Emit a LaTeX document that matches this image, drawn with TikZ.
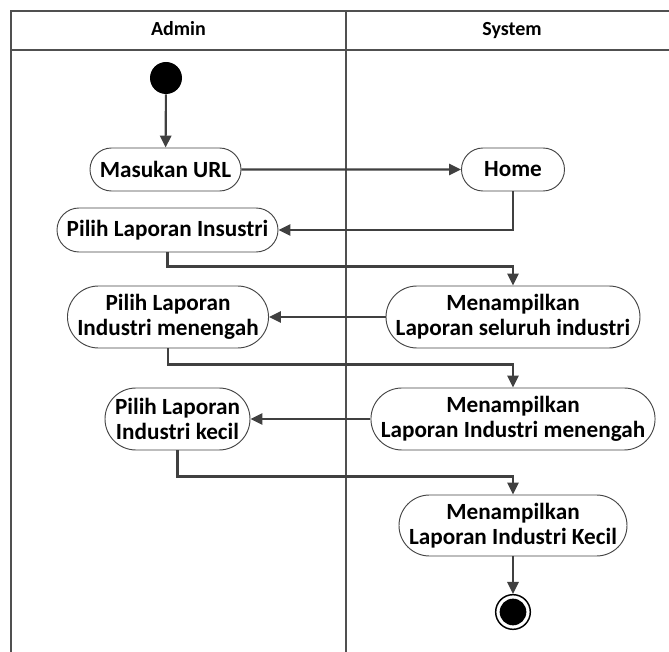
\documentclass[tikz,border=0pt]{standalone}
\usepackage{fontspec}
\setmainfont{Carlito}
\usetikzlibrary{arrows.meta,shapes.misc}
\definecolor{linegray}{HTML}{404040}
\definecolor{framegray}{HTML}{505050}
\definecolor{nodegray}{HTML}{454545}
\begin{document}
\begin{tikzpicture}[x=0.75pt,y=-0.75pt,
  act/.style 2 args={rounded rectangle, rounded rectangle arc length=180,
    draw=nodegray, line width=0.7pt, fill=white, inner sep=0pt,
    minimum width=#1, minimum height=#2, align=center,
    font=\fontsize{17.4}{18.8}\selectfont\bfseries},
  conn/.style={draw=linegray, line width=1.6pt, -{Triangle[length=9pt,width=8.5pt]}},
  lane/.style={draw=framegray, line width=1.4pt},
  head/.style={font=\fontsize{15}{16}\selectfont\bfseries, inner sep=0pt, anchor=base}]
\useasboundingbox (0,0) rectangle (669,652);
% swimlane frame
\draw[lane] (669,11) -- (11,11) -- (11,652);
\draw[lane] (11,50) -- (669,50);
\draw[lane] (346,11) -- (346,652);
\node[head] (hadmin) at (178.5,36) {Admin};
\node[head] (hsystem) at (512,36) {System};
% nodes
\node[circle, fill=black, minimum size=24pt, inner sep=0pt] (start) at (166,78) {};
\node[act={113.25pt}{32.25pt}] (url) at (165.5,169.5) {Masukan URL};
\node[act={77.25pt}{32.25pt}] (home) at (513,169.5) {Home};
\node[act={165.75pt}{33pt}] (pilih) at (167.5,230) {Pilih Laporan Insustri};
\node[act={190.5pt}{46.5pt}] (tampil1) at (513,317) {Menampilkan\\Laporan seluruh industri};
\node[act={150pt}{46.5pt}] (pmen) at (168,317) {Pilih Laporan\\Industri menengah};
\node[act={213pt}{46.5pt}] (tampil2) at (513,419) {Menampilkan\\Laporan Industri menengah};
\node[act={108.75pt}{46.5pt}] (pkecil) at (177.5,419) {Pilih Laporan\\Industri kecil};
\node[act={171pt}{45.75pt}] (tampil3) at (513,525.5) {Menampilkan\\Laporan Industri Kecil};
\node[circle, draw=black, line width=1.1pt, fill=white, minimum size=26pt, inner sep=0pt] (end) at (513,612) {};
\fill[black] (end.center) circle (10pt);
% connectors
\draw[conn] (start) -- (url);
\draw[conn] (url) -- (home);
\draw[conn] (home.south) |- (pilih.east);
\draw[conn] (pilih.south) -- ++(0,14) -| (tampil1.north);
\draw[conn] (tampil1.west) -- (pmen.east);
\draw[conn] (pmen.south) -- ++(0,16) -| (tampil2.north);
\draw[conn] (tampil2.west) -- (pkecil.east);
\draw[conn] (pkecil.south) -- ++(0,26) -| (tampil3.north);
\draw[conn] (tampil3.south) -- (end.north);
\end{tikzpicture}
\end{document}
